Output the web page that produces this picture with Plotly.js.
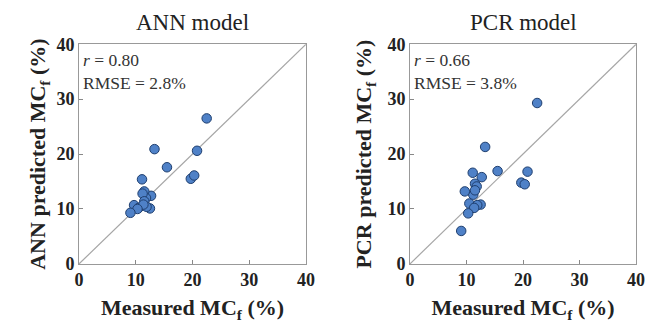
<!DOCTYPE html>
<html>
<head>
<meta charset="utf-8">
<script src="https://cdn.plot.ly/plotly-3.0.1.min.js"></script>
<style>html,body{margin:0;padding:0;background:#fff;}#chart{width:651px;height:323px;}</style>
</head>
<body>
<div id="chart"></div>
<script>
// Measured MCf (%) — same samples in both panels
const measured = [22.5, 13.3, 15.5, 20.8, 11.1, 12.7, 19.7, 20.3, 11.5, 11.8, 11.2, 11.5, 9.7, 10.5, 12.5, 11.9, 11.35, 10.3, 9.06];
// ANN predicted MCf (%)
const annPred  = [26.5, 20.9, 17.6, 20.6, 15.4, 12.4, 15.5, 16.1, 13.2, 12.0, 12.8, 11.4, 10.7, 10.2, 10.1, 10.4, 10.8, 10.0, 9.3];
// PCR predicted MCf (%)
const pcrPred  = [29.3, 21.3, 16.9, 16.8, 16.6, 15.8, 14.8, 14.5, 14.6, 14.1, 12.6, 13.4, 13.2, 11.0, 10.8, 10.7, 10.2, 9.2, 6.0];
const oneToOne = [0, 40];
const tickVals = [0, 10, 20, 30, 40];
const panelTitles = ['ANN model', 'PCR model'];
const yTitles = ['ANN predicted MC<sub>f</sub> (%)', 'PCR predicted MC<sub>f</sub> (%)'];
const xTitle = 'Measured MC<sub>f</sub> (%)';
const stats = ['<i>r</i> = 0.80<br>RMSE = 2.8%', '<i>r</i> = 0.66<br>RMSE = 3.8%'];

const serif = '"Times New Roman", "Liberation Serif", Tinos, Times, serif';
const marker = {size: 9.5, color: '#4f81c7', line: {color: '#1f3f6f', width: 1}};

const traces = [
  {x: oneToOne, y: oneToOne, mode: 'lines', line: {color: '#a6a6a6', width: 1.2}, xaxis: 'x', yaxis: 'y', hoverinfo: 'skip'},
  {x: measured, y: annPred, mode: 'markers', marker: marker, xaxis: 'x', yaxis: 'y'},
  {x: oneToOne, y: oneToOne, mode: 'lines', line: {color: '#a6a6a6', width: 1.2}, xaxis: 'x2', yaxis: 'y2', hoverinfo: 'skip'},
  {x: measured, y: pcrPred, mode: 'markers', marker: marker, xaxis: 'x2', yaxis: 'y2'}
];

function xAx(dom, anchor) {
  return {domain: dom, anchor: anchor, range: [0, 40], tickvals: tickVals, ticks: 'inside', ticklen: 4, tickcolor: '#888',
    showline: true, linecolor: '#999', linewidth: 1, mirror: true, showgrid: false, zeroline: false,
    tickfont: {family: serif, size: 18, color: '#222', weight: 'bold'},
    title: {text: xTitle, font: {family: serif, size: 22, color: '#222', weight: 'bold'}, standoff: 10}};
}
function yAx(dom, anchor, t, so) {
  return {domain: dom, anchor: anchor, range: [0, 40], tickvals: tickVals, ticks: 'inside', ticklen: 4, tickcolor: '#888',
    showline: true, linecolor: '#999', linewidth: 1, mirror: true, showgrid: false, zeroline: false,
    tickfont: {family: serif, size: 18, color: '#222', weight: 'bold'},
    title: {text: t, font: {family: serif, size: 22, color: '#222', weight: 'bold'}, standoff: so}};
}

const yDom = [0.183, 0.863];
const xDom1 = [0.1214, 0.4700];
const xDom2 = [0.6298, 0.9770];
const layout = {
  width: 651, height: 323, margin: {l: 0, r: 0, t: 0, b: 0},
  paper_bgcolor: '#fff', plot_bgcolor: '#fff', showlegend: false,
  xaxis: xAx(xDom1, 'y'),
  yaxis: yAx(yDom, 'x', yTitles[0], 4),
  xaxis2: xAx(xDom2, 'y2'),
  yaxis2: yAx(yDom, 'x2', yTitles[1], 9),
  annotations: [
    {xref: 'paper', yref: 'paper', x: (xDom1[0] + xDom1[1]) / 2, xanchor: 'center', y: 0.929, yanchor: 'middle', text: panelTitles[0], showarrow: false, font: {family: serif, size: 23, color: '#222'}},
    {xref: 'paper', yref: 'paper', x: (xDom2[0] + xDom2[1]) / 2, xanchor: 'center', y: 0.929, yanchor: 'middle', text: panelTitles[1], showarrow: false, font: {family: serif, size: 23, color: '#222'}},
    {xref: 'x domain', yref: 'y domain', x: 0.01, y: 0.985, xanchor: 'left', yanchor: 'top', align: 'left', text: stats[0], showarrow: false, font: {family: serif, size: 17.5, color: '#333'}},
    {xref: 'x2 domain', yref: 'y2 domain', x: 0.01, y: 0.985, xanchor: 'left', yanchor: 'top', align: 'left', text: stats[1], showarrow: false, font: {family: serif, size: 17.5, color: '#333'}}
  ]
};

Plotly.newPlot('chart', traces, layout, {displayModeBar: false, staticPlot: true});
</script>
</body>
</html>
